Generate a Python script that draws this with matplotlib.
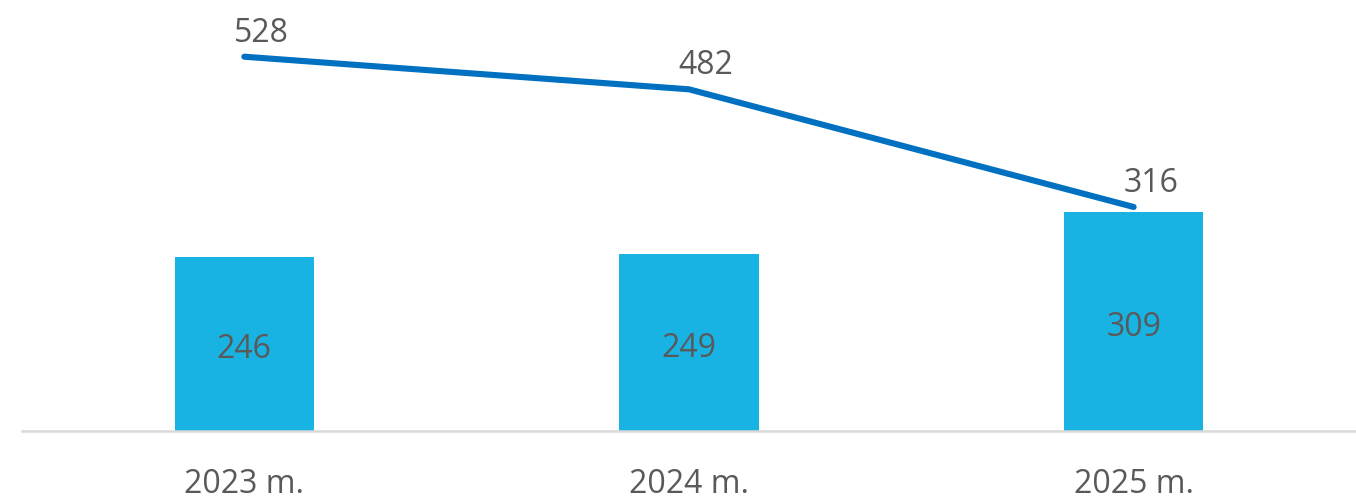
import numpy as np
import matplotlib as mpl
from matplotlib import pyplot as plt

mpl.rcParams.update({
    'font.family': ['Open Sans', 'DejaVu Sans'],
    'font.size': 23,
})

years = ['2023 m.', '2024 m.', '2025 m.']
bar_values = [246, 249, 309]
line_values = [528, 482, 316]

bar_color = '#19B3E3'
line_color = '#0070C0'
text_color = '#595959'

fig = plt.figure(figsize=(13.56, 4.97), dpi=100)
ax = fig.add_axes([0.0162, 0.1328, 0.9838, 0.8672])

x = np.arange(len(years))
ax.bar(x, bar_values, width=0.313, color=bar_color, zorder=2)
ax.plot(x, line_values, color=line_color, linewidth=4.4,
        solid_capstyle='round', solid_joinstyle='round', zorder=3)

# bar labels sit a bit below bar middle
for xi, v in zip(x, bar_values):
    ax.annotate(str(v), (xi, v / 2), xytext=(0, -6), textcoords='offset pixels',
                ha='center', va='center', color=text_color, fontsize=23, zorder=4)

for xi, v in zip(x, line_values):
    ax.annotate(str(v), (xi, v), xytext=(17, 7), textcoords='offset pixels',
                ha='center', va='bottom', color=text_color, fontsize=23, zorder=4)

ax.set_xlim(-0.5, 2.5)
ax.set_ylim(0, 608)
ax.set_xticks(x)
ax.set_xticklabels(years, color=text_color, fontsize=23)
ax.tick_params(axis='x', length=0, pad=27)
ax.set_yticks([])

for side in ['top', 'right', 'left']:
    ax.spines[side].set_visible(False)
ax.spines['bottom'].set_color('#D9D9D9')
ax.spines['bottom'].set_linewidth(1.8)

fig.savefig('out.png', dpi=100)
